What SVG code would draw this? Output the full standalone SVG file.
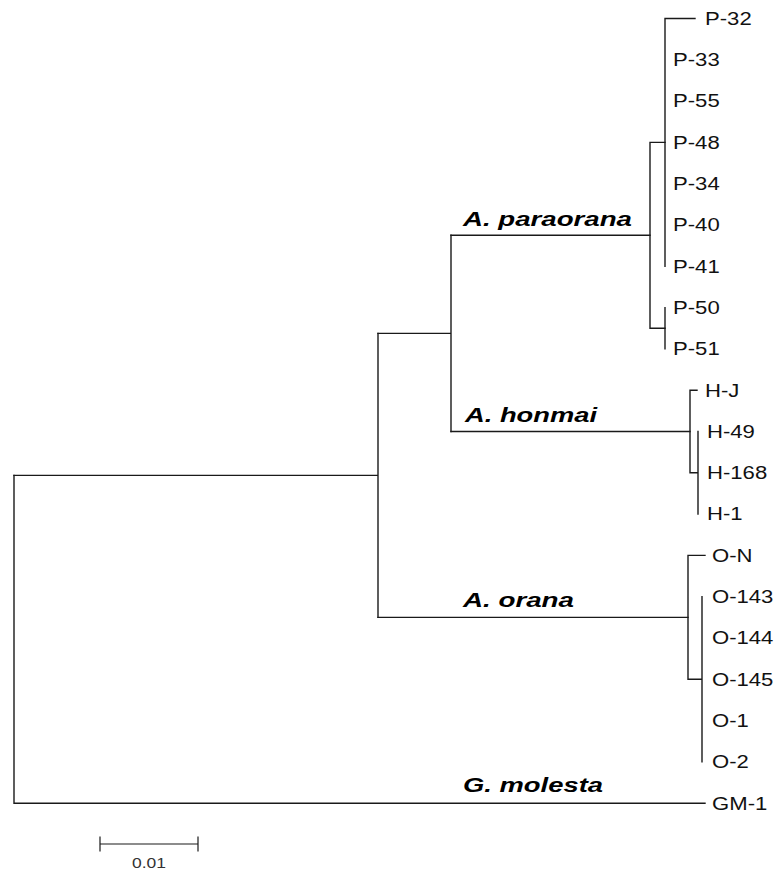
<svg xmlns="http://www.w3.org/2000/svg" width="774" height="873" viewBox="0 0 774 873">
<style>
.br{stroke:#1a1a1a;stroke-width:1.4;fill:none;stroke-linecap:square}
.leaf{font-family:"Liberation Sans",Arial,sans-serif;font-size:18px;fill:#111}
.sp{font-family:"Liberation Sans",Arial,sans-serif;font-size:21px;font-weight:bold;font-style:italic;fill:#000}
.sc{font-family:"Liberation Sans",Arial,sans-serif;font-size:15px;fill:#333}
</style>
<rect width="774" height="873" fill="#fff"/>
<g id="connectors" class="br">
<path d="M665,18.5V266.3 M665,18.5H695"/>
<path d="M665,307.6V348.9"/>
<path d="M650,142.4V328.25 M650,142.4H665 M650,328.25H665"/>
<path d="M451,235.3H650"/>
<path d="M698,431.5V514.1 M690,390.2V472.8 M690,390.2H697 M690,472.8H698"/>
<path d="M451,431.5H690"/>
<path d="M451,235.3V431.5 M378,333.4H451"/>
<path d="M702,596.7V761.9 M688,555.4V679.3 M688,555.4H705 M688,679.3H702"/>
<path d="M378,617.35H688"/>
<path d="M378,333.4V617.35 M14,475.4H378"/>
<path d="M14,475.4V803.2 M14,803.2H705"/>
</g>
<g id="leaf-P-32"><text class="leaf" x="705" y="24.8" textLength="46.7" lengthAdjust="spacingAndGlyphs">P-32</text></g>
<g id="leaf-P-33"><text class="leaf" x="673" y="66.1" textLength="46.7" lengthAdjust="spacingAndGlyphs">P-33</text></g>
<g id="leaf-P-55"><text class="leaf" x="673" y="107.4" textLength="46.7" lengthAdjust="spacingAndGlyphs">P-55</text></g>
<g id="leaf-P-48"><text class="leaf" x="673" y="148.7" textLength="46.7" lengthAdjust="spacingAndGlyphs">P-48</text></g>
<g id="leaf-P-34"><text class="leaf" x="673" y="190" textLength="46.7" lengthAdjust="spacingAndGlyphs">P-34</text></g>
<g id="leaf-P-40"><text class="leaf" x="673" y="231.3" textLength="46.7" lengthAdjust="spacingAndGlyphs">P-40</text></g>
<g id="leaf-P-41"><text class="leaf" x="673" y="272.6" textLength="46.7" lengthAdjust="spacingAndGlyphs">P-41</text></g>
<g id="leaf-P-50"><text class="leaf" x="673" y="313.9" textLength="46.7" lengthAdjust="spacingAndGlyphs">P-50</text></g>
<g id="leaf-P-51"><text class="leaf" x="673" y="355.2" textLength="46.7" lengthAdjust="spacingAndGlyphs">P-51</text></g>
<g id="leaf-H-J"><text class="leaf" x="705" y="396.5" textLength="34.4" lengthAdjust="spacingAndGlyphs">H-J</text></g>
<g id="leaf-H-49"><text class="leaf" x="707" y="437.8" textLength="47.9" lengthAdjust="spacingAndGlyphs">H-49</text></g>
<g id="leaf-H-168"><text class="leaf" x="707" y="479.1" textLength="60.2" lengthAdjust="spacingAndGlyphs">H-168</text></g>
<g id="leaf-H-1"><text class="leaf" x="707" y="520.4" textLength="35.6" lengthAdjust="spacingAndGlyphs">H-1</text></g>
<g id="leaf-O-N"><text class="leaf" x="712" y="561.7" textLength="40.5" lengthAdjust="spacingAndGlyphs">O-N</text></g>
<g id="leaf-O-143"><text class="leaf" x="712" y="603" textLength="61.4" lengthAdjust="spacingAndGlyphs">O-143</text></g>
<g id="leaf-O-144"><text class="leaf" x="712" y="644.3" textLength="61.4" lengthAdjust="spacingAndGlyphs">O-144</text></g>
<g id="leaf-O-145"><text class="leaf" x="712" y="685.6" textLength="61.4" lengthAdjust="spacingAndGlyphs">O-145</text></g>
<g id="leaf-O-1"><text class="leaf" x="712" y="726.9" textLength="36.8" lengthAdjust="spacingAndGlyphs">O-1</text></g>
<g id="leaf-O-2"><text class="leaf" x="712" y="768.2" textLength="36.8" lengthAdjust="spacingAndGlyphs">O-2</text></g>
<g id="leaf-GM-1"><text class="leaf" x="712" y="809.5" textLength="55.3" lengthAdjust="spacingAndGlyphs">GM-1</text></g>
<g id="clade-paraorana"><text class="sp" x="463" y="226" textLength="169" lengthAdjust="spacingAndGlyphs">A. paraorana</text></g>
<g id="clade-honmai"><text class="sp" x="465" y="422" textLength="132" lengthAdjust="spacingAndGlyphs">A. honmai</text></g>
<g id="clade-orana"><text class="sp" x="463" y="607" textLength="111" lengthAdjust="spacingAndGlyphs">A. orana</text></g>
<g id="clade-molesta"><text class="sp" x="463" y="792" textLength="140" lengthAdjust="spacingAndGlyphs">G. molesta</text></g>
<g id="scale-bar">
<path class="br" d="M100,844H198 M100,837V851 M198,837V851" style="stroke-width:1.2"/>
<text class="sc" x="149" y="868" text-anchor="middle" textLength="34" lengthAdjust="spacingAndGlyphs">0.01</text>
</g>
</svg>
